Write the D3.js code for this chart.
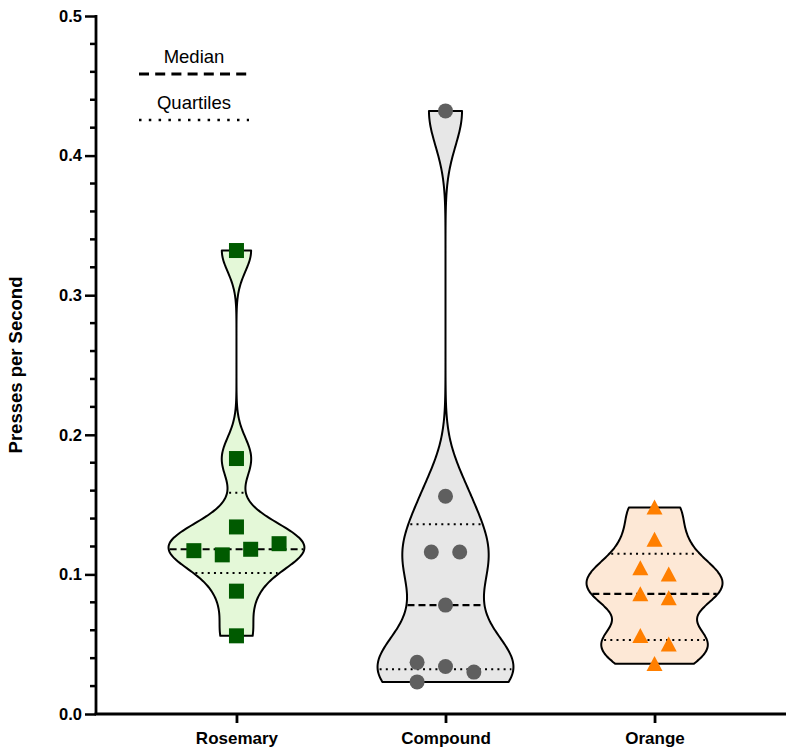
<!DOCTYPE html>
<html><head><meta charset="utf-8">
<script src="https://cdn.jsdelivr.net/npm/d3@7"></script>
<style>body{margin:0;background:#fff} svg{display:block} text{font-family:"Liberation Sans",Arial,Helvetica,sans-serif}</style>
</head><body><svg id="c" width="786" height="751"></svg>
<script>
// ---- data ----
const categories = ["Rosemary", "Compound", "Orange"];
const rosemaryValues = [0.332, 0.183, 0.134, 0.117, 0.114, 0.118, 0.122, 0.088, 0.056];
const rosemarySlots  = [0, 0, 0, -1.5, -0.5, 0.5, 1.5, 0, 0];
const compoundValues = [0.432, 0.156, 0.116, 0.116, 0.078, 0.037, 0.034, 0.030, 0.023];
const compoundSlots  = [0, 0, -0.5, 0.5, 0, -1, 0, 1, -1];
const orangeValues   = [0.148, 0.125, 0.1045, 0.100, 0.086, 0.083, 0.056, 0.050, 0.036];
const orangeSlots    = [0, 0, -0.5, 0.5, -0.5, 0.5, -0.5, 0.5, 0];
const yTickValues = [0, 0.1, 0.2, 0.3, 0.4, 0.5];
const yTickLabels = ["0.0", "0.1", "0.2", "0.3", "0.4", "0.5"];
const legendLabels = ["Median", "Quartiles"];
const yTitle = "Presses per Second";

// ---- styles ----
const bandwidths = [0.015, 0.025, 0.0128];
const fills = ["#e4f8d8", "#e7e7e7", "#fde8d6"];
const markerColors = ["#005a00", "#5f5f5f", "#ff7f00"];
const markerShapes = ["square", "circle", "triangle"];
const maxHalfWidth = 68;
const slotUnit = 28.4;

const series = [
  {cat: categories[0], values: rosemaryValues, slots: rosemarySlots},
  {cat: categories[1], values: compoundValues, slots: compoundSlots},
  {cat: categories[2], values: orangeValues, slots: orangeSlots}
];

const svg = d3.select("#c");
const y = d3.scaleLinear().domain([0, 0.5]).range([714, 16]);
const x = d3.scalePoint().domain(categories).range([96, 795]).padding(0.672);

function density(values, h, v) {
  return d3.sum(values, d => Math.exp(-0.5 * ((v - d) / h) ** 2));
}
function quart(values, p) {
  const s = [...values].sort(d3.ascending);
  const pos = p * (s.length + 1) - 1;
  const lo = Math.max(0, Math.floor(pos)), f = pos - lo;
  return s[lo] + (s[Math.min(lo + 1, s.length - 1)] - s[lo]) * f;
}

series.forEach((s, i) => {
  const h = bandwidths[i];
  const lo = d3.min(s.values), hi = d3.max(s.values);
  const N = 200;
  const grid = d3.range(N + 1).map(k => {
    const v = lo + (hi - lo) * k / N;
    return [v, density(s.values, h, v)];
  });
  const dmax = d3.max(grid, g => g[1]);
  const w = v => density(s.values, h, v) / dmax * maxHalfWidth;
  const cx = x(s.cat);
  const g = svg.append("g");
  const area = d3.area()
    .y(d => y(d[0]))
    .x0(d => cx - d[1] / dmax * maxHalfWidth)
    .x1(d => cx + d[1] / dmax * maxHalfWidth)
    .curve(d3.curveBasis);
  g.append("path").attr("d", area(grid))
    .attr("fill", fills[i]).attr("stroke", "#000").attr("stroke-width", 2)
    .attr("stroke-linejoin", "round");
  // quartiles
  [0.25, 0.75].forEach(p => {
    const q = quart(s.values, p), ww = w(q) - 2;
    g.append("line").attr("x1", cx - ww).attr("x2", cx + ww)
      .attr("y1", y(q)).attr("y2", y(q))
      .attr("stroke", "#000").attr("stroke-width", 2).attr("stroke-dasharray", "2,4.2");
  });
  const med = quart(s.values, 0.5), mw = w(med) - 1;
  g.append("line").attr("x1", cx - mw).attr("x2", cx + mw)
    .attr("y1", y(med)).attr("y2", y(med))
    .attr("stroke", "#000").attr("stroke-width", 2.2).attr("stroke-dasharray", "7,4");
  // points
  s.values.forEach((v, j) => {
    const px = cx + s.slots[j] * slotUnit, py = y(v);
    const shape = markerShapes[i];
    if (shape === "square") {
      g.append("rect").attr("x", px - 7.5).attr("y", py - 7.5).attr("width", 15).attr("height", 15)
        .attr("fill", markerColors[i]);
    } else if (shape === "circle") {
      g.append("circle").attr("cx", px).attr("cy", py).attr("r", 7.5).attr("fill", markerColors[i]);
    } else {
      g.append("path").attr("d", `M${px},${py - 7.8}L${px + 8},${py + 7.2}L${px - 8},${py + 7.2}Z`)
        .attr("fill", markerColors[i]);
    }
  });
});

// ---- axes ----
const yAxis = svg.append("g").attr("transform", "translate(96,0)");
const minor = d3.range(0, 0.5001, 0.02).filter(v => Math.abs(v * 10 - Math.round(v * 10)) > 1e-6);
yAxis.selectAll(".mn").data(minor).enter().append("line")
  .attr("x1", -6).attr("x2", 0).attr("y1", d => y(d)).attr("y2", d => y(d))
  .attr("stroke", "#000").attr("stroke-width", 2.5);
yAxis.call(d3.axisLeft(y).tickValues(yTickValues).tickFormat((d, k) => yTickLabels[k])
  .tickSize(11).tickSizeOuter(0).tickPadding(3));
yAxis.select(".domain").attr("stroke-width", 2.8).attr("d", `M0,${y(0)}V${y(0.5) - 1}`);
yAxis.selectAll(".tick line").attr("stroke-width", 2.5);
yAxis.selectAll(".tick text").attr("font-size", 16.5).attr("font-weight", "bold")
  .attr("font-family", "'Liberation Sans', Arial, sans-serif").attr("fill", "#000");

const xAxis = svg.append("g").attr("transform", `translate(0,${y(0)})`);
xAxis.call(d3.axisBottom(x).tickSize(9).tickSizeOuter(0).tickPadding(9));
xAxis.select(".domain").attr("stroke-width", 2.8).attr("d", `M${96 - 1.4},0H786`);
xAxis.selectAll(".tick line").attr("stroke-width", 2.8);
xAxis.selectAll(".tick text").attr("font-size", 17).attr("font-weight", "bold")
  .attr("font-family", "'Liberation Sans', Arial, sans-serif").attr("fill", "#000");

// y title
svg.append("text").attr("transform", `translate(22,${(y(0) + y(0.5)) / 2}) rotate(-90)`)
  .attr("text-anchor", "middle").attr("font-size", 18.5).attr("font-weight", "bold")
  .text(yTitle);

// ---- legend ----
const lg = svg.append("g");
lg.append("text").attr("x", 194).attr("y", 63).attr("text-anchor", "middle")
  .attr("font-size", 18.5).text(legendLabels[0]);
lg.append("line").attr("x1", 139).attr("x2", 250).attr("y1", 74).attr("y2", 74)
  .attr("stroke", "#000").attr("stroke-width", 3).attr("stroke-dasharray", "10,6.2");
lg.append("text").attr("x", 194).attr("y", 109).attr("text-anchor", "middle")
  .attr("font-size", 18.5).text(legendLabels[1]);
lg.append("line").attr("x1", 139).attr("x2", 249).attr("y1", 120).attr("y2", 120)
  .attr("stroke", "#000").attr("stroke-width", 2.5).attr("stroke-dasharray", "2.5,7.3");
</script></body></html>
